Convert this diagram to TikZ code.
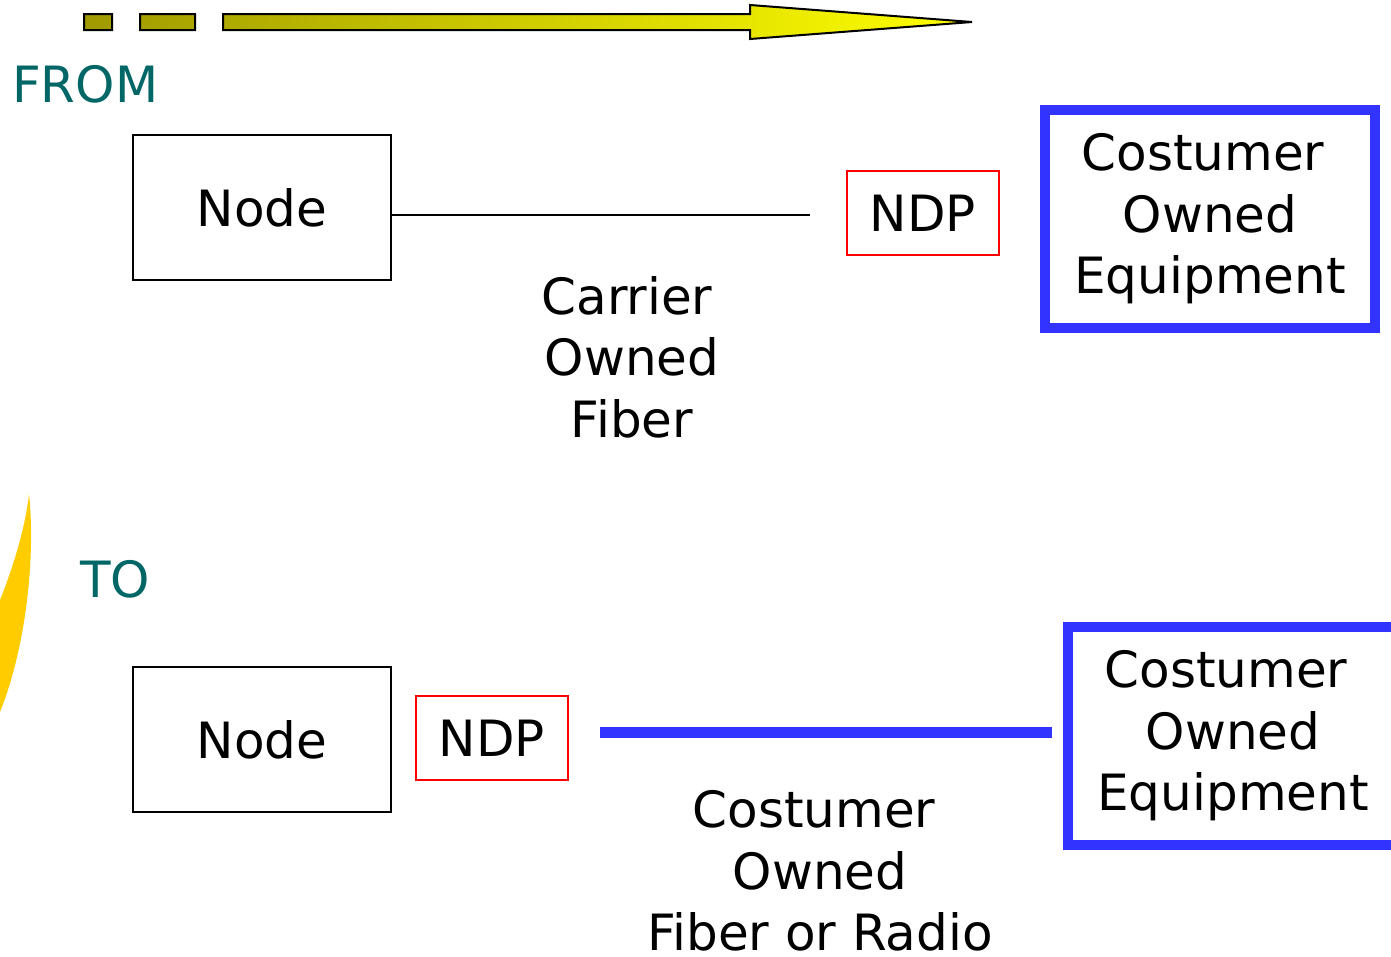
\documentclass[tikz,border=0pt]{standalone}
\usepackage{fontspec}
\setmainfont{DejaVu Sans}
\definecolor{teal}{HTML}{006666}
\definecolor{cblue}{HTML}{3333FF}
\definecolor{olivey}{HTML}{A09A00}
\definecolor{goldy}{HTML}{FFCC00}
\begin{document}
\begin{tikzpicture}[x=1pt,y=-1pt,
  txt/.style={font=\fontsize{50}{61.5}\selectfont, align=center, inner sep=0pt},
  nodebox/.style={draw=black, line width=1.5pt, minimum width=258pt, minimum height=145pt, font=\fontsize{50}{61.5}\selectfont},
  ndpbox/.style={draw=red, line width=1.5pt, minimum width=152pt, minimum height=84pt, font=\fontsize{50}{61.5}\selectfont},
  coebox/.style={draw=cblue, line width=10pt, minimum width=330pt, minimum height=218pt, inner sep=0pt, txt},
  label/.style={text=teal, font=\fontsize{50}{60}\selectfont, anchor=base west, inner sep=0pt}]
\useasboundingbox (0,0) rectangle (1391,956);

% direction arrow with two leading dashes
\path[draw=black, line width=2pt, left color=olivey, right color=yellow, shading=axis]
  (84,14) rectangle (112,30)
  (140,14) rectangle (195,30)
  (223,14) -- (750,14) -- (750,5) -- (972,22) -- (750,39) -- (750,30) -- (223,30) -- cycle;

% curved swoosh at the left edge
\fill[goldy] (29,494) .. controls (36,560) and (25,650) .. (0,712)
  -- (0,600) .. controls (12,570) and (25,530) .. cycle;

% upper row
\node[label] (from) at (12,102) {FROM};
\node[nodebox] (n1) at (262,207.5) {Node};
\node[ndpbox] (ndp1) at (923,213) {NDP};
\node[coebox] (coe1) at (1210,219) {Costumer\kern14pt\\ Owned\\ Equipment};
\coordinate (e1) at (810,215);
\draw[line width=1.5pt] (n1.east |- e1) -- (e1);
\node[txt] (cof) at (632,357) {Carrier\kern10pt\\ Owned\\ Fiber};

% lower row
\node[label] (to) at (80,597) {TO};
\node[nodebox] (n2) at (262,739.5) {Node};
\node[ndpbox] (ndp2) at (492,738) {NDP};
\node[coebox] (coe2) at (1233,736) {Costumer\kern14pt\\ Owned\\ Equipment};
\coordinate (s2) at (600,732);
\coordinate (s2e) at (1052,732);
\draw[cblue, line width=11pt] (s2) -- (s2e);
\node[txt] (cofr) at (820,871) {Costumer\kern12pt\\ Owned\\ Fiber or Radio};
\end{tikzpicture}
\end{document}
